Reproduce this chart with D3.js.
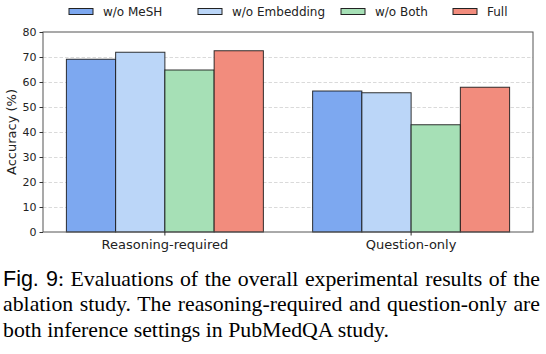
<!DOCTYPE html>
<html>
<head>
<meta charset="utf-8">
<script src="https://cdn.jsdelivr.net/npm/d3@7"></script>
<style>
  html, body { margin: 0; padding: 0; background: #fff; }
  body { width: 546px; height: 354px; position: relative; overflow: hidden; }
  svg { position: absolute; left: 0; top: 0; }
  #caption { position: absolute; left: 3px; top: 266.5px; width: 537px;
    font-family: "Liberation Serif", "Times New Roman", serif; font-size: 21.8px;
    line-height: 25.5px; color: #000; }
  #caption .l { display: block; text-align: justify; text-align-last: justify; white-space: nowrap; }
  #caption .last { display: block; text-align: left; }
  #caption .sans { font-family: "Liberation Sans", Arial, sans-serif; font-size: 21.5px; }
</style>
</head>
<body>
<svg id="chart" width="546" height="262"></svg>
<div id="caption">
  <span class="l"><span class="sans">Fig. 9</span>: Evaluations of the overall experimental results of the</span>
  <span class="l">ablation study. The reasoning-required and question-only are</span>
  <span class="last">both inference settings in PubMedQA study.</span>
</div>
<script>
const categories = ["Reasoning-required", "Question-only"];
const seriesNames = ["w/o MeSH", "w/o Embedding", "w/o Both", "Full"];
const woMeSH = [69.1, 56.4];
const woEmbedding = [71.9, 55.7];
const woBoth = [64.8, 42.9];
const full = [72.5, 57.9];
const yTicks = [0, 10, 20, 30, 40, 50, 60, 70, 80];
const colors = ["#7da8f0", "#bbd6f8", "#a6e0b6", "#f28c7d"];

const seriesValues = [woMeSH, woEmbedding, woBoth, full];

const svg = d3.select("#chart");
const L = 43, R = 533, T = 32, B = 232;

const x0 = d3.scaleBand().domain(categories).range([L, R]).paddingInner(0.2).paddingOuter(0.095);
const x1 = d3.scaleBand().domain(seriesNames).range([0, x0.bandwidth()]).padding(0);
const y = d3.scaleLinear().domain([0, 80]).range([B, T]);

// grid
svg.append("g").selectAll("line").data(yTicks.filter(t => t > 0 && t < 80)).join("line")
  .attr("x1", L).attr("x2", R)
  .attr("y1", d => y(d) + 0.5).attr("y2", d => y(d) + 0.5)
  .attr("stroke", "#d6d6d6").attr("stroke-width", 0.9).attr("stroke-dasharray", "3.5,2");

// bars
const groups = svg.append("g").selectAll("g").data(categories).join("g")
  .attr("transform", d => `translate(${x0(d)},0)`);
groups.selectAll("rect").data((c, ci) => seriesNames.map((s, si) => ({ s, si, v: seriesValues[si][ci] })))
  .join("rect")
  .attr("x", d => x1(d.s))
  .attr("y", d => y(d.v))
  .attr("width", x1.bandwidth())
  .attr("height", d => y(0) - y(d.v))
  .attr("fill", d => colors[d.si])
  .attr("stroke", "#111")
  .attr("stroke-opacity", 0.85)
  .attr("stroke-width", 1);

// frame
svg.append("rect").attr("x", L).attr("y", T).attr("width", R - L).attr("height", B - T)
  .attr("fill", "none").attr("stroke", "#555").attr("stroke-width", 1);

// y axis
const yAxis = svg.append("g").attr("transform", `translate(${L},0)`)
  .call(d3.axisLeft(y).tickValues(yTicks).tickSize(3.5).tickPadding(3));
yAxis.select(".domain").remove();
yAxis.selectAll("line").attr("stroke", "#333");
yAxis.selectAll("text").attr("font-family", "DejaVu Sans, sans-serif").attr("font-size", 11).attr("fill", "#222");

// x axis
const xAxis = svg.append("g").attr("transform", `translate(0,${B})`)
  .call(d3.axisBottom(x0).tickSize(3.5).tickPadding(4));
xAxis.select(".domain").remove();
xAxis.selectAll("line").attr("stroke", "#333");
xAxis.selectAll("text").attr("font-family", "DejaVu Sans, sans-serif").attr("font-size", 13).attr("fill", "#222");

// y label
svg.append("text")
  .attr("transform", `translate(11.5,${(T + B) / 2}) rotate(-90)`)
  .attr("text-anchor", "middle").attr("dominant-baseline", "central")
  .attr("font-family", "DejaVu Sans, sans-serif").attr("font-size", 13).attr("fill", "#222")
  .text("Accuracy (%)");

// legend
const legendX = [69, 198, 341, 453];
const leg = svg.append("g").selectAll("g").data(seriesNames).join("g")
  .attr("transform", (d, i) => `translate(${legendX[i]},0)`);
leg.append("rect").attr("x", 0).attr("y", 8.5).attr("width", 24).attr("height", 6)
  .attr("fill", (d, i) => colors[i]).attr("stroke", "#222").attr("stroke-width", 1);
leg.append("text").attr("x", 34).attr("y", 11.5).attr("dominant-baseline", "central")
  .attr("font-family", "DejaVu Sans, sans-serif").attr("font-size", 12).attr("fill", "#222")
  .text(d => d);
</script>
</body>
</html>
